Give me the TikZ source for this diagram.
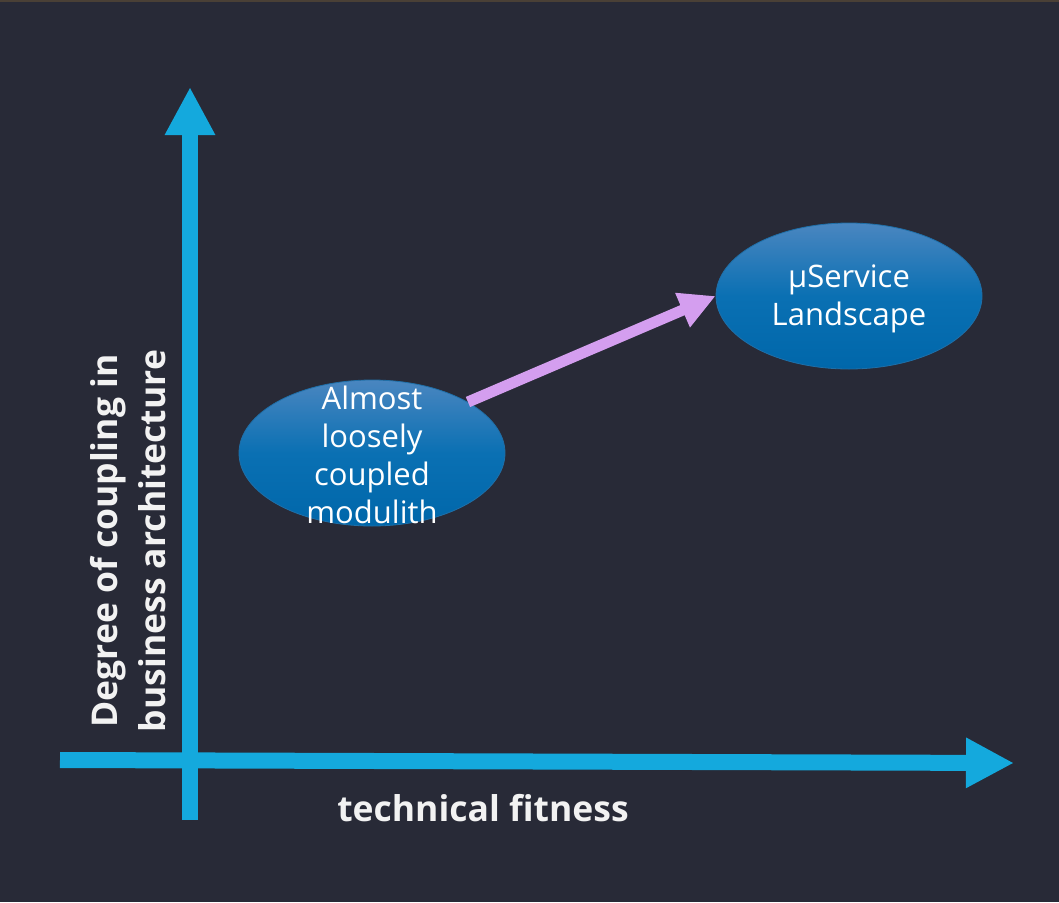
\documentclass[tikz,border=0pt]{standalone}
\usepackage{fontspec}
\setmainfont{Open Sans}
\usetikzlibrary{arrows.meta,shapes.geometric}
\definecolor{bg}{HTML}{282A37}
\definecolor{axisblue}{HTML}{14A9DD}
\definecolor{violet}{HTML}{D49EEF}
\definecolor{elltop}{HTML}{4A86C0}
\definecolor{ellmid}{HTML}{0A70B3}
\definecolor{ellbot}{HTML}{0067AA}
\definecolor{ellline}{HTML}{1F6FA8}
\definecolor{txt}{HTML}{F2F2F2}
\definecolor{strip}{HTML}{4A4036}
\tikzset{
  axisline/.style={draw=axisblue, line width=16pt, line cap=butt, -{Triangle[length=48pt,width=47pt]}},
  ellbox/.style={ellipse, draw=ellline, line width=0.8pt, top color=elltop, bottom color=ellbot, middle color=ellmid, minimum width=266pt, minimum height=146pt, inner sep=0pt},
  elltext/.style={text=white, align=center, font=\fontsize{31pt}{38pt}\selectfont},
  axislabel/.style={text=txt, align=center, font=\bfseries\fontsize{35.5pt}{48pt}\selectfont},
  movearrow/.style={draw=violet, line width=11pt, -{Triangle[length=36pt,width=35pt]}}
}
\begin{document}
\begin{tikzpicture}[x=1pt,y=-1pt]
\fill[bg] (0,0) rectangle (1059,902);
\fill[strip] (0,0) rectangle (1059,2);
\useasboundingbox (0,0) rectangle (1059,902);
% axes
\coordinate (ybot) at (190,820);
\coordinate (ytop) at (190,87);
\coordinate (xleft) at (60,760);
\coordinate (xright) at (1014,763);
\draw[axisline] (ybot) -- (ytop);
\draw[axisline] (xleft) -- (xright);
% ellipses
\node[ellbox] (e1) at (372,453) {};
\node[ellbox] (e2) at (849,296) {};
\node[elltext] (t1) at (372,455) {Almost\\loosely\\coupled\\modulith};
\node[elltext] (t2) at (849,299) {µService\\Landscape};
\draw[movearrow] (e1.28.7) -- (e2.west);
% axis labels
\node[axislabel] (xl) at (483,808) {technical fitness};
\node[axislabel, rotate=90] (yl) at (128,541) {Degree of coupling in\\business architecture};
\end{tikzpicture}
\end{document}
